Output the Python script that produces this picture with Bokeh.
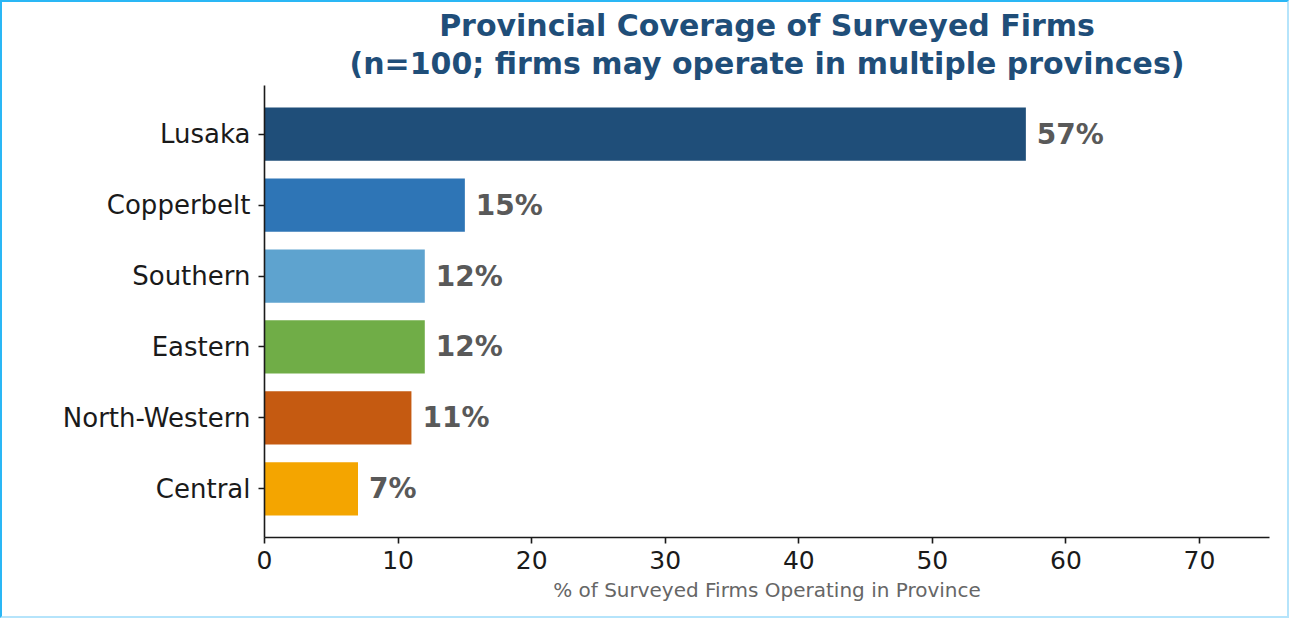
from bokeh.plotting import figure
from bokeh.models import FactorRange, Range1d, FixedTicker, Title, ColumnDataSource
from bokeh.core.properties import value
from bokeh.embed import file_html
from bokeh.resources import INLINE

provinces = ["Lusaka", "Copperbelt", "Southern", "Eastern", "North-Western", "Central"]
percent = [57, 15, 12, 12, 11, 7]
colors = ["#1f4e79", "#2e75b6", "#5ea3cf", "#70ad47", "#c55a11", "#f4a500"]
x_ticks = [0, 10, 20, 30, 40, 50, 60, 70]
title_line1 = "Provincial Coverage of Surveyed Firms"
title_line2 = "(n=100; firms may operate in multiple provinces)"
x_label = "% of Surveyed Firms Operating in Province"

FONT = "DejaVu Sans"

src = ColumnDataSource(dict(
    province=provinces,
    pct=percent,
    color=colors,
    label=[f"{v}%" for v in percent],
))

p = figure(
    width=1289, height=618,
    y_range=FactorRange(factors=list(reversed(provinces)), range_padding=0.062),
    x_range=Range1d(0, max(percent) * 1.32),
    output_backend="svg", toolbar_location=None,
    min_border_left=262, min_border_right=22, min_border_top=83, min_border_bottom=83,
)
p.styles = {
    "box-sizing": "border-box",
    "border-top": "2px solid #2ab7f5",
    "border-left": "2px solid #2ab7f5",
    "border-right": "2px solid #b5e4fb",
    "border-bottom": "2px solid #b5e4fb",
}

p.hbar(y="province", right="pct", left=0, height=0.75, fill_color="color",
       line_color=None, source=src)
p.text(x="pct", y="province", text="label", source=src, x_offset=11,
       text_baseline="middle", text_align="left",
       text_font=value(FONT), text_font_style="bold", text_font_size="28px",
       text_color="#595959")

# first added sits closest to the plot
p.add_layout(Title(text=title_line2, align="center", text_font=FONT,
                   text_font_style="bold", text_font_size="30px",
                   text_color="#1f4e79", standoff=10, offset=0), "above")
p.add_layout(Title(text=title_line1, align="center", text_font=FONT,
                   text_font_style="bold", text_font_size="30px",
                   text_color="#1f4e79", standoff=-8, offset=0), "above")

p.xaxis.ticker = FixedTicker(ticks=x_ticks)
p.xaxis.axis_label = x_label
p.xaxis.axis_label_text_font = FONT
p.xaxis.axis_label_text_font_style = "normal"
p.xaxis.axis_label_text_font_size = "20px"
p.xaxis.axis_label_text_color = "#666666"
p.xaxis.axis_label_standoff = 6

for ax in (p.xaxis, p.yaxis):
    ax.major_label_text_font = FONT
    ax.major_label_text_color = "#1a1a1a"
    ax.axis_line_color = "#1a1a1a"
    ax.axis_line_width = 1.6
    ax.major_tick_line_color = "#1a1a1a"
    ax.major_tick_line_width = 1.6
    ax.major_tick_out = 6
    ax.major_tick_in = 0
    ax.minor_tick_line_color = None

p.xaxis.major_label_text_font_size = "25px"
p.yaxis.major_label_text_font_size = "26px"
p.xaxis.major_label_standoff = 7
p.yaxis.major_label_standoff = 8

p.xgrid.grid_line_color = None
p.ygrid.grid_line_color = None
p.outline_line_color = None
p.background_fill_color = "white"
p.border_fill_color = "white"

open("out.html", "w").write(file_html(p, INLINE))
